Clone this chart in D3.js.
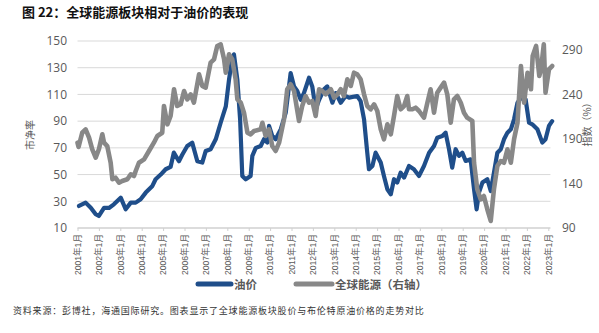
<!DOCTYPE html>
<html>
<head>
<meta charset="utf-8">
<script src="https://cdn.jsdelivr.net/npm/d3@7"></script>
<style>
  html, body { margin: 0; padding: 0; background: #fff; }
  svg { display: block; font-family: "Noto Sans CJK SC", "Noto Sans", sans-serif; }
</style>
</head>
<body>
<svg id="chart" width="599" height="333"></svg>
<script>
// Category labels along the x axis (one per January)
const years = d3.range(2001, 2024);
const yearLabels = years.map(y => y + "年1月");

// Left axis ticks (oil price) and right axis ticks (global energy index)
const leftTicks = [10, 30, 50, 70, 90, 110, 130, 150];
const rightTicks = [90, 140, 190, 240, 290];

// 油价 — time in fractional years, values on the left axis
const oilT = [2001.07, 2001.38, 2001.62, 2001.85, 2002.0, 2002.24, 2002.47, 2002.7, 2003.02, 2003.25,
  2003.49, 2003.72, 2003.95, 2004.19, 2004.5, 2004.65, 2004.89, 2005.12, 2005.35, 2005.5,
  2005.74, 2005.9, 2006.13, 2006.36, 2006.6, 2006.83, 2006.99, 2007.22, 2007.46, 2007.69,
  2007.93, 2008.08, 2008.2, 2008.31, 2008.47, 2008.6, 2008.7, 2008.86, 2009.09, 2009.17,
  2009.33, 2009.56, 2009.71, 2009.87, 2009.95, 2010.1, 2010.26, 2010.5, 2010.73, 2010.96,
  2011.12, 2011.27, 2011.43, 2011.58, 2011.82, 2011.97, 2012.13, 2012.29, 2012.52, 2012.67,
  2012.91, 2013.07, 2013.3, 2013.53, 2013.69, 2014.07, 2014.23, 2014.39, 2014.54, 2014.62,
  2014.78, 2014.93, 2015.17, 2015.32, 2015.48, 2015.64, 2015.79, 2015.94, 2016.1, 2016.26,
  2016.49, 2016.72, 2016.96, 2017.19, 2017.43, 2017.66, 2017.81, 2018.05, 2018.2, 2018.36,
  2018.51, 2018.67, 2018.83, 2018.98, 2019.14, 2019.37, 2019.53, 2019.65, 2019.76, 2019.92,
  2020.15, 2020.31, 2020.46, 2020.62, 2020.78, 2020.93, 2021.09, 2021.25, 2021.4, 2021.56,
  2021.79, 2021.94, 2022.1, 2022.25, 2022.49, 2022.72, 2022.87, 2023.03, 2023.18];
const oilV = [26.5, 29, 25.2, 20.3, 19, 25, 25, 27.7, 32.7, 24,
  29, 29, 31.5, 36.5, 41.5, 46.5, 50, 54, 55.7, 66.4,
  60, 65, 71.4, 73.9, 60, 59, 67.6, 69, 76.4, 88.8,
  101, 121, 134, 140, 121, 91, 49, 46.5, 49, 64,
  70, 71.4, 76.4, 74, 86.4, 79, 76.4, 84, 96.3, 126,
  116, 112.6, 106, 111, 122.5, 116, 98.9, 106, 113.8, 116,
  103.8, 111, 103.8, 108.8, 107.6, 108.8, 105, 91.4, 66.4, 54,
  56.4, 66.4, 59, 49, 39, 35.2, 46.5, 44, 51.4, 47.7,
  56.4, 54, 49, 56.4, 66.4, 71.4, 77.6, 78.9, 81.4, 69,
  55.2, 69, 64, 66.4, 60.2, 61.4, 39, 24, 36.5, 44,
  46.5, 37.7, 51.4, 66.4, 69, 76.4, 81.4, 83.9, 91.4, 103.8,
  108.8, 106.3, 88.8, 87.6, 83.9, 73.9, 76.4, 86.4, 90];

// 全球能源 — time in fractional years, values on the right axis
const energyT = [2001.0, 2001.05, 2001.22, 2001.38, 2001.54, 2001.69, 2001.85, 2002.0, 2002.16, 2002.24,
  2002.39, 2002.55, 2002.63, 2002.78, 2002.94, 2003.09, 2003.33, 2003.49, 2003.64, 2003.72,
  2003.87, 2004.11, 2004.34, 2004.57, 2004.73, 2004.96, 2005.04, 2005.2, 2005.35, 2005.51,
  2005.66, 2005.82, 2005.98, 2006.13, 2006.29, 2006.44, 2006.68, 2006.83, 2006.99, 2007.22,
  2007.38, 2007.53, 2007.69, 2007.85, 2007.93, 2008.08, 2008.23, 2008.39, 2008.47, 2008.63,
  2008.78, 2008.94, 2009.09, 2009.25, 2009.56, 2009.64, 2009.79, 2009.95, 2010.1, 2010.26,
  2010.42, 2010.65, 2010.8, 2010.96, 2011.12, 2011.35, 2011.5, 2011.66, 2011.82, 2011.97,
  2012.13, 2012.29, 2012.44, 2012.6, 2012.84, 2012.99, 2013.15, 2013.3, 2013.45, 2013.61,
  2013.77, 2013.92, 2014.07, 2014.23, 2014.39, 2014.54, 2014.7, 2014.86, 2015.01, 2015.17,
  2015.32, 2015.48, 2015.64, 2015.79, 2015.94, 2016.1, 2016.26, 2016.41, 2016.49, 2016.65,
  2016.8, 2016.96, 2017.19, 2017.35, 2017.5, 2017.66, 2017.81, 2017.97, 2018.13, 2018.28,
  2018.44, 2018.59, 2018.75, 2018.91, 2019.06, 2019.21, 2019.45, 2019.53, 2019.68, 2019.84,
  2019.99, 2020.15, 2020.31, 2020.46, 2020.62, 2020.78, 2020.93, 2021.09, 2021.25, 2021.4,
  2021.56, 2021.72, 2021.87, 2022.03, 2022.19, 2022.27, 2022.43, 2022.58, 2022.66, 2022.79,
  2022.87, 2023.03, 2023.18];
const energyV = [185.8, 181, 197, 200.8, 191.4, 178.4, 169, 178.4, 195.2, 185.8,
  182, 163.3, 144.7, 146.5, 140.9, 142.8, 144.7, 150.3, 148.4, 154,
  163.3, 167.1, 176.5, 185.8, 193.3, 197, 227, 206.4, 215.8, 245.8,
  227, 228.9, 243.8, 234.5, 240.1, 230.7, 262.6, 249.5, 247.6, 275.7,
  279.4, 294.4, 296.3, 279.4, 264.5, 285, 279.4, 257, 234.5, 230.7,
  219.5, 197, 195.2, 198.9, 200.8, 208.2, 193.3, 200.8, 182.1, 176.5,
  185.8, 212, 245.8, 251.4, 243.8, 210.2, 227, 238.2, 230.7, 232.6,
  215.8, 245.8, 243.8, 240.1, 245.8, 236.4, 240.1, 245.8, 238.2, 257,
  249.5, 264.4, 262.6, 257, 240.1, 227, 223.3, 228.9, 221.4, 200.8,
  189.6, 206.4, 195.2, 215.8, 238.2, 223.3, 227, 238.2, 223.3, 223.3,
  225.1, 221.4, 213.9, 230.7, 245.8, 219.5, 241.9, 247.6, 253.2, 240.1,
  208.2, 234.5, 238.2, 230.7, 219.5, 213.9, 210.2, 163.3, 133.5, 122.2,
  125.9, 111, 97.9, 133.5, 159.6, 165.2, 163.3, 178.4, 163.3, 189.6,
  208.2, 271.9, 230.7, 264.4, 245.8, 283.1, 294.4, 260.7, 268.2, 296.3,
  241.9, 268.2, 271.9];

const seriesNames = ["油价", "全球能源（右轴）"];
const colors = { oil: "#1f4e8a", energy: "#888888" };

const svg = d3.select("#chart");

const x = d3.scaleLinear().domain([2001, 2023]).range([77.5, 548.3]);
const yL = d3.scaleLinear().domain([10, 150]).range([228, 41]);
const yR = d3.scaleLinear().domain([90, 300]).range([228, 41]);

// Title
svg.append("text")
  .attr("x", 22).attr("y", 17)
  .attr("font-size", 13).attr("font-weight", "bold").attr("fill", "#111")
  .text("图 22：全球能源板块相对于油价的表现");

// Horizontal gridlines at the left-axis ticks
svg.append("g").selectAll("line")
  .data(leftTicks.slice(1))
  .join("line")
  .attr("x1", x(2001)).attr("x2", x(2023.1))
  .attr("y1", d => yL(d)).attr("y2", d => yL(d))
  .attr("stroke", "#d9d9d9").attr("stroke-width", 1);

// Category axis
const xAxis = d3.axisBottom(x)
  .tickValues(years)
  .tickFormat((d, i) => yearLabels[i])
  .tickSize(3);
const gx = svg.append("g").attr("transform", "translate(0,228)").call(xAxis);
gx.select(".domain").attr("stroke", "#d0d0d0").attr("stroke-width", 1.5)
  .attr("d", `M${x(2001)},0H${x(2023.1)}`);
gx.selectAll(".tick line").attr("stroke", "#d0d0d0");
gx.selectAll(".tick text")
  .attr("font-size", 8.6).attr("fill", "#595959")
  .attr("font-family", "'Liberation Sans', 'Noto Sans CJK SC', sans-serif")
  .attr("text-anchor", "end")
  .attr("transform", "rotate(-90)")
  .attr("x", -6).attr("y", 0).attr("dy", "0.32em");

// Left value axis
const gl = svg.append("g").attr("transform", "translate(67,0)")
  .call(d3.axisLeft(yL).tickValues(leftTicks).tickSize(0).tickPadding(0));
gl.select(".domain").remove();
gl.selectAll("text").attr("font-size", 12).attr("fill", "#595959")
  .attr("font-family", "'Open Sans', 'Liberation Sans', sans-serif");

// Right value axis
const gr = svg.append("g").attr("transform", "translate(562,0)")
  .call(d3.axisRight(yR).tickValues(rightTicks).tickSize(0).tickPadding(0));
gr.select(".domain").remove();
gr.selectAll("text").attr("font-size", 12).attr("fill", "#595959")
  .attr("font-family", "'Open Sans', 'Liberation Sans', sans-serif");

// Axis titles
svg.append("text")
  .attr("transform", "translate(34,135) rotate(-90)")
  .attr("text-anchor", "middle").attr("font-size", 10).attr("fill", "#595959")
  .text("市净率");
svg.append("text")
  .attr("transform", "translate(591,122) rotate(-90)")
  .attr("text-anchor", "middle").attr("font-size", 10).attr("fill", "#595959")
  .text("指数（%）");

// Lines
const oilData = oilT.map((t, i) => [t, oilV[i]]);
const energyData = energyT.map((t, i) => [t, energyV[i]]);

svg.append("path")
  .datum(oilData)
  .attr("fill", "none").attr("stroke", colors.oil).attr("stroke-width", 4.2)
  .attr("stroke-linejoin", "round").attr("stroke-linecap", "round")
  .attr("d", d3.line().x(d => x(d[0])).y(d => yL(d[1])));

svg.append("path")
  .datum(energyData)
  .attr("fill", "none").attr("stroke", colors.energy).attr("stroke-width", 4.6)
  .attr("stroke-linejoin", "round").attr("stroke-linecap", "round")
  .attr("d", d3.line().x(d => x(d[0])).y(d => yR(d[1])));

// Legend
const legend = [
  { name: seriesNames[0], color: colors.oil, x1: 198, x2: 231, tx: 234 },
  { name: seriesNames[1], color: colors.energy, x1: 296, x2: 332, tx: 335 }
];
const lg = svg.append("g");
lg.selectAll("line").data(legend).join("line")
  .attr("x1", d => d.x1).attr("x2", d => d.x2)
  .attr("y1", 284).attr("y2", 284)
  .attr("stroke", d => d.color).attr("stroke-width", 5).attr("stroke-linecap", "round");
lg.selectAll("text").data(legend).join("text")
  .attr("x", d => d.tx).attr("y", 288.5)
  .attr("font-size", 11.5).attr("font-weight", "bold").attr("fill", "#595959")
  .text(d => d.name);

// Source note
svg.append("text")
  .attr("x", 13).attr("y", 314)
  .attr("font-size", 9).attr("fill", "#333").attr("letter-spacing", 0.8)
  .text("资料来源：彭博社，海通国际研究。图表显示了全球能源板块股价与布伦特原油价格的走势对比");
</script>
</body>
</html>
